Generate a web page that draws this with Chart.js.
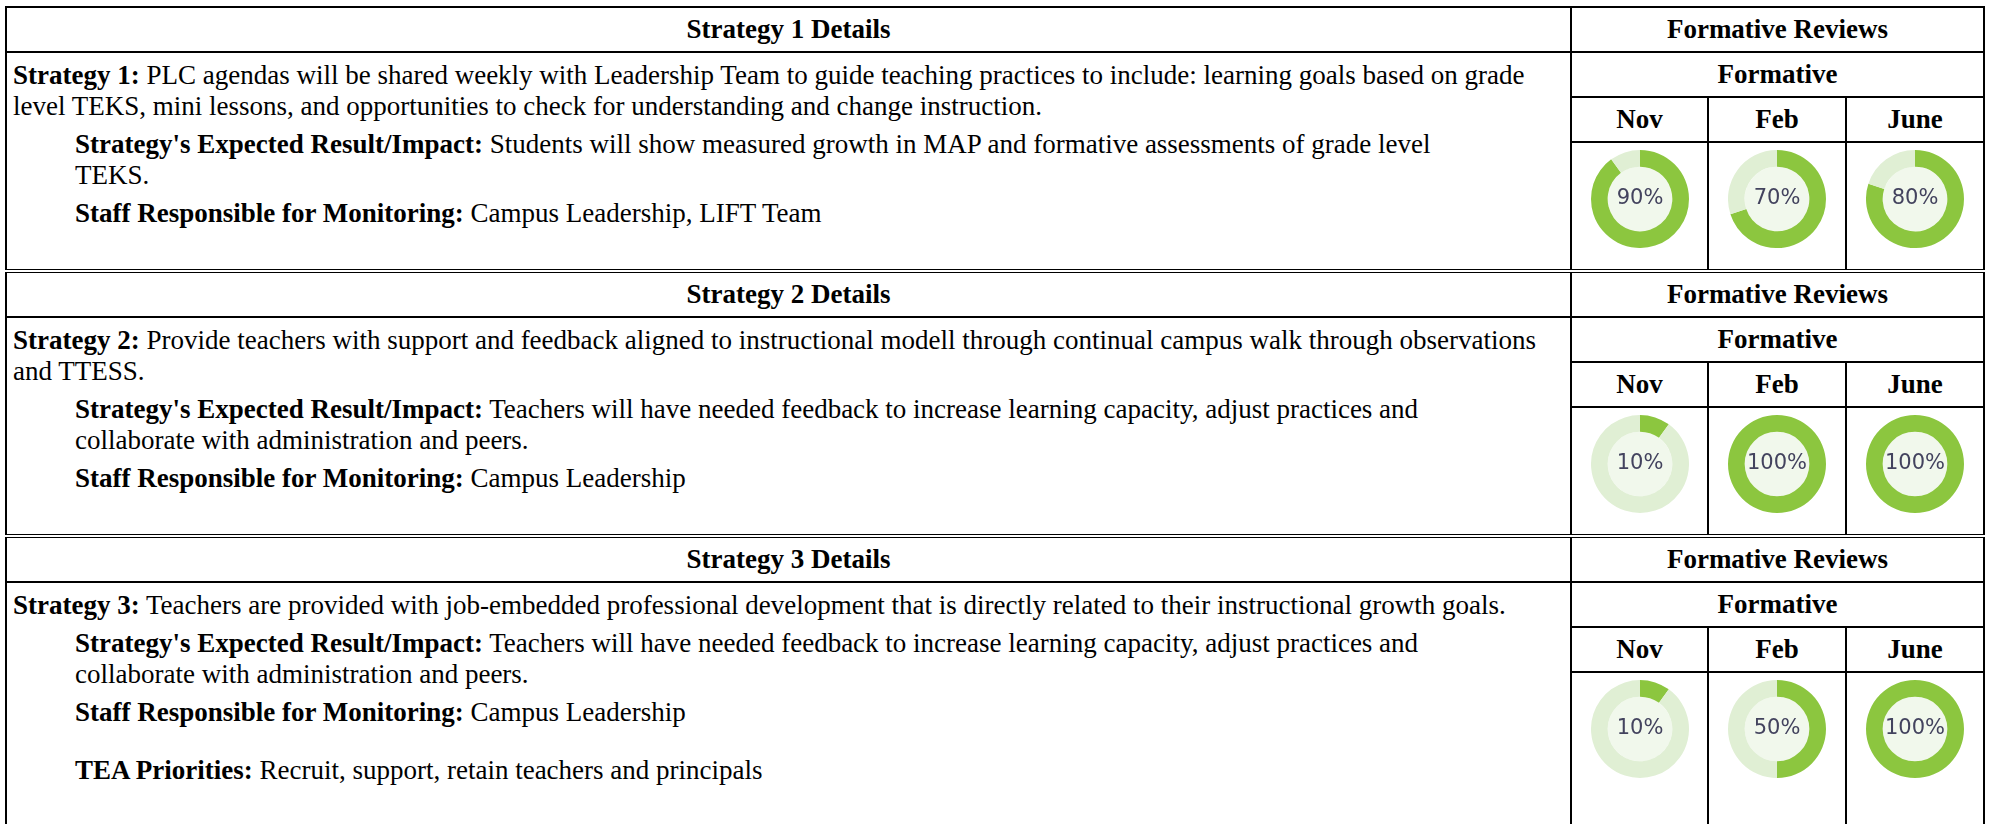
<!DOCTYPE html>
<html>
<head>
<meta charset="utf-8">
<script src="https://cdn.jsdelivr.net/npm/chart.js@4.4.1/dist/chart.umd.min.js"></script>
<style>
  body { margin: 0; background: #fff; }
  table {
    position: absolute; left: 5px; top: 6px;
    border-collapse: collapse; table-layout: fixed; width: 1980px;
    font-family: "Liberation Serif", "Times New Roman", serif; font-size: 27px; color: #000;
  }
  td, th { border: 2px solid #000; padding: 0; }
  th { font-weight: bold; text-align: center; height: 43px; line-height: 31px; }
  tr.top th { border-top: 4px double #000; }
  tr.first th { border-top: 2px solid #000; }
  td.details { vertical-align: top; padding: 7px 0 0 6px; line-height: 31px; white-space: nowrap; }
  .ind { margin: 7px 0 0 62px; }
  .tea { margin-top: 27px; }
  td.donut { vertical-align: top; height: 126px; }
  td.last { height: 160px; }
  .ring { width: 98px; height: 98px; margin: 7px auto 0; }
</style>
</head>
<body>
<table>
  <colgroup><col style="width:1565px"><col style="width:137px"><col style="width:138px"><col style="width:138px"></colgroup>
  <tbody id="body"></tbody>
</table>
<script>
// Formative review months and % complete for each strategy
const months = ['Nov', 'Feb', 'June'];
const strategy1Values = [90, 70, 80];
const strategy2Values = [10, 100, 100];
const strategy3Values = [10, 50, 100];

const GREEN = '#8cc63f';
const TRACK = '#e0efd4';
const CENTER = '#f1f8ec';

const details = [
    `<div><b>Strategy 1:</b> PLC agendas will be shared weekly with Leadership Team to guide teaching practices to include: learning goals based on grade<br>level TEKS, mini lessons, and opportunities to check for understanding and change instruction.</div>
     <div class="ind"><b>Strategy's Expected Result/Impact:</b> Students will show measured growth in MAP and formative assessments of grade level<br>TEKS.</div>
     <div class="ind"><b>Staff Responsible for Monitoring:</b> Campus Leadership, LIFT Team</div>`,
    `<div><b>Strategy 2:</b> Provide teachers with support and feedback aligned to instructional modell through continual campus walk through observations<br>and TTESS.</div>
     <div class="ind"><b>Strategy's Expected Result/Impact:</b> Teachers will have needed feedback to increase learning capacity, adjust practices and<br>collaborate with administration and peers.</div>
     <div class="ind"><b>Staff Responsible for Monitoring:</b> Campus Leadership</div>`,
    `<div><b>Strategy 3:</b> Teachers are provided with job-embedded professional development that is directly related to their instructional growth goals.</div>
     <div class="ind"><b>Strategy's Expected Result/Impact:</b> Teachers will have needed feedback to increase learning capacity, adjust practices and<br>collaborate with administration and peers.</div>
     <div class="ind"><b>Staff Responsible for Monitoring:</b> Campus Leadership</div>
     <div class="ind tea"><b>TEA Priorities:</b> Recruit, support, retain teachers and principals</div>`
];
const allValues = [strategy1Values, strategy2Values, strategy3Values];

// Build the table rows
let html = '';
allValues.forEach((vals, s) => {
    const last = s === allValues.length - 1;
    html += `<tr class="top${s === 0 ? ' first' : ''}"><th>Strategy ${s + 1} Details</th><th colspan="3">Formative Reviews</th></tr>`;
    html += `<tr><td class="details" rowspan="3">${details[s]}</td><th colspan="3">Formative</th></tr>`;
    html += `<tr>${months.map(m => `<th>${m}</th>`).join('')}</tr>`;
    html += `<tr>${months.map((m, i) => `<td class="donut${last ? ' last' : ''}"><div class="ring"><canvas id="ring-${s}-${i}"></canvas></div></td>`).join('')}</tr>`;
});
document.getElementById('body').innerHTML = html;

// Light centre disc and percentage label
const centerPlugin = {
    id: 'centerLabel',
    beforeDatasetsDraw(chart) {
        const arc = chart.getDatasetMeta(0).data[0];
        const ctx = chart.ctx;
        ctx.save();
        ctx.fillStyle = CENTER;
        ctx.beginPath();
        ctx.arc(arc.x, arc.y, arc.innerRadius, 0, Math.PI * 2);
        ctx.fill();
        ctx.restore();
    },
    afterDatasetsDraw(chart) {
        const arc = chart.getDatasetMeta(0).data[0];
        const ctx = chart.ctx;
        ctx.save();
        ctx.font = '21px "DejaVu Sans"';
        ctx.fillStyle = '#43435e';
        ctx.textAlign = 'center';
        ctx.textBaseline = 'middle';
        ctx.fillText(chart.data.datasets[0].data[0] + '%', arc.x, arc.y);
        ctx.restore();
    }
};

allValues.forEach((vals, s) => {
    vals.forEach((v, i) => {
        new Chart(document.getElementById(`ring-${s}-${i}`), {
            type: 'doughnut',
            data: {
                labels: ['Complete', 'Remaining'],
                datasets: [{
                    data: [v, 100 - v],
                    backgroundColor: [GREEN, TRACK],
                    borderWidth: 0,
                    hoverOffset: 0,
                    offset: 0
                }]
            },
            options: {
                responsive: true,
                maintainAspectRatio: false,
                cutout: '66%',
                animation: false,
                events: [],
                plugins: { legend: { display: false }, tooltip: { enabled: false } }
            },
            plugins: [centerPlugin]
        });
    });
});
</script>
</body>
</html>
